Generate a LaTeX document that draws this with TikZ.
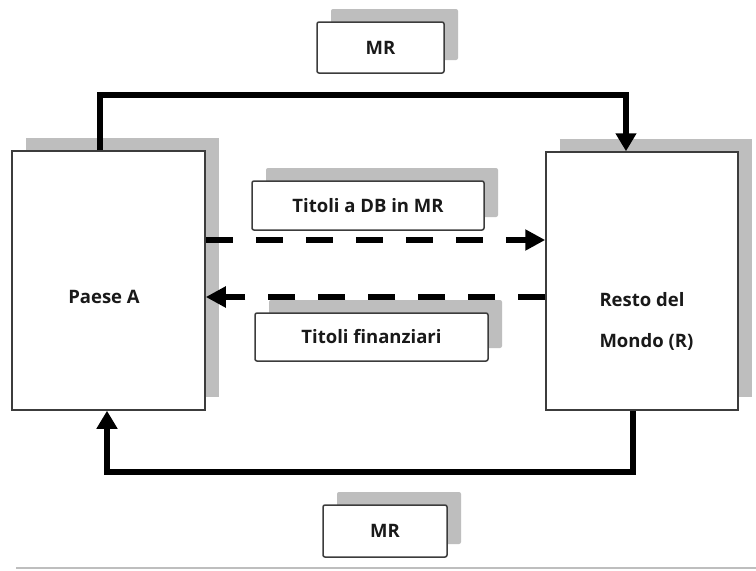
\documentclass[tikz,border=0pt]{standalone}
\usepackage{fontspec}
\setmainfont{Open Sans}
\usetikzlibrary{arrows.meta,shadows}
\definecolor{shadowgray}{RGB}{190,190,190}
\definecolor{boxline}{RGB}{60,60,60}
\begin{document}
\begin{tikzpicture}[x=1pt,y=-1pt,
  every node/.style={font=\fontsize{18.5}{22}\selectfont\bfseries,text=black!90},
  sector/.style={draw=boxline,line width=1.5pt,fill=white,
    drop shadow={shadow xshift=14pt,shadow yshift=13pt,fill=shadowgray,opacity=1}},
  flowbox/.style={sector,rounded corners=2pt,inner sep=0pt},
  conn/.style={line width=5.5pt,-{Triangle[width=20pt,length=18pt]}},
  dashconn/.style={line width=6pt,dash pattern=on 27pt off 23pt,
    -{Triangle[width=20pt,length=20pt]}}]
\useasboundingbox (0,0) rectangle (756,571);
\fill[white] (0,0) rectangle (756,571);
% frame line along the bottom
\draw[shadowgray,line width=2.5pt] (16,568) -- (756,568);

% the two economies
\node[sector,minimum width=193pt,minimum height=259pt] (paese) at (108.5,280.5) {};
\node[sector,minimum width=192pt,minimum height=258pt] (resto) at (642,281) {};
\node (paeselbl) at (104,297) {Paese A};
\node[anchor=west,align=left] (restolbl) at (596,321)
  {Resto del\\[19pt]Mondo (R)};

% labelled flows
\node[flowbox,minimum width=127pt,minimum height=51pt] (mrtop) at (380.5,47.5) {MR};
\node[flowbox,minimum width=124pt,minimum height=52pt] (mrbot) at (385,531) {MR};
\node[flowbox,minimum width=232pt,minimum height=49pt] (titdb) at (368,205.5) {Titoli a DB in MR};
\node[flowbox,minimum width=233pt,minimum height=48pt] (titfin) at (371.5,337) {Titoli finanziari};

% routing points of the money flows
\coordinate (tl) at (100,95);
\coordinate (tr) at (626,95);
\coordinate (br) at (633,472);
\coordinate (bl) at (107,472);
\coordinate (yout) at (0,240);
\coordinate (yin) at (0,297);

\draw[conn] (paese.north -| tl) -- (tl) -- (tr) -- (resto.north -| tr);
\draw[conn] (resto.south -| br) -- (br) -- (bl) -- (paese.south -| bl);

% flows of securities
\draw[dashconn] (paese.east |- yout) -- (resto.west |- yout);
\draw[dashconn] (resto.west |- yin) -- (paese.east |- yin);
\end{tikzpicture}
\end{document}
